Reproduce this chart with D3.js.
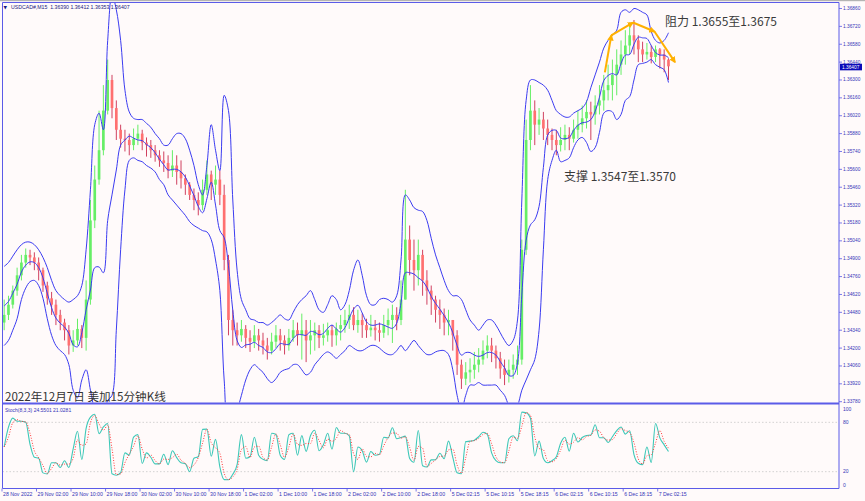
<!DOCTYPE html>
<html><head><meta charset="utf-8">
<script src="https://cdn.jsdelivr.net/npm/d3@7"></script>
<style>html,body{margin:0;padding:0;background:#fffafa;}svg{display:block;}</style>
</head><body>
<svg id="chart" width="865" height="501"></svg>
<script>
// ---------- DATA ----------
const headerText = "USDCAD#,M15  1.36390 1.36412 1.36353 1.36407";
const stochText = "Stoch(8,3,3) 24.5501 21.0281";
const lastPriceLabel = "1.36407";
const firstOpen = 1.3440;
// hourly candles (4 x M15 bars each)
const closes = [1.3446,1.3454,1.3465,1.3477,1.3487,1.3493,1.3491,1.3487,1.3481,1.3469,
1.3459,1.3454,1.3446,1.3440,1.3434,1.3422,1.3426,1.3435,1.3428,1.3458,
1.3520,1.3552,1.3575,1.3606,1.3630,1.3608,1.3591,1.3584,1.3583,1.3579,
1.3584,1.3588,1.3581,1.3579,1.3575,1.3571,1.3567,1.3565,1.3559,1.3563,
1.3558,1.3553,1.3548,1.3540,1.3536,1.3532,1.3544,1.3556,1.3548,1.3552,
1.3540,1.3489,1.3442,1.3434,1.3430,1.3435,1.3428,1.3425,1.3430,1.3426,
1.3422,1.3418,1.3425,1.3430,1.3426,1.3422,1.3428,1.3434,1.3430,1.3434,
1.3426,1.3430,1.3434,1.3428,1.3430,1.3434,1.3430,1.3435,1.3438,1.3442,
1.3446,1.3438,1.3442,1.3438,1.3434,1.3436,1.3434,1.3432,1.3438,1.3442,
1.3446,1.3442,1.3458,1.3505,1.3489,1.3481,1.3493,1.3473,1.3465,1.3458,
1.3450,1.3446,1.3440,1.3442,1.3430,1.3407,1.3396,1.3401,1.3403,1.3407,
1.3411,1.3418,1.3422,1.3418,1.3412,1.3404,1.3399,1.3403,1.3407,1.3411,
1.3497,1.3583,1.3606,1.3595,1.3599,1.3592,1.3587,1.3583,1.3579,1.3583,
1.3587,1.3584,1.3591,1.3595,1.3600,1.3605,1.3603,1.3610,1.3614,1.3622,
1.3626,1.3634,1.3642,1.3650,1.3657,1.3665,1.3661,1.3654,1.3650,1.3652,
1.3648,1.3654,1.3650,1.3646,1.36407];
const highs = [1.3458,1.3461,1.3469,1.3483,1.3493,1.3498,1.3497,1.3495,1.3491,1.3483,
1.3472,1.3464,1.3458,1.3450,1.3443,1.3438,1.3434,1.3443,1.3438,1.3473,
1.3536,1.3563,1.3606,1.3626,1.3646,1.3634,1.3614,1.3595,1.3591,1.3588,
1.3592,1.3595,1.3591,1.3585,1.3583,1.3579,1.3575,1.3574,1.3571,1.3575,
1.3571,1.3567,1.3556,1.3550,1.3545,1.3542,1.3552,1.3567,1.3559,1.3563,
1.3559,1.3548,1.3493,1.3450,1.3440,1.3442,1.3438,1.3434,1.3438,1.3435,
1.3432,1.3428,1.3432,1.3438,1.3435,1.3430,1.3435,1.3442,1.3440,1.3447,
1.3442,1.3442,1.3440,1.3438,1.3439,1.3440,1.3438,1.3440,1.3446,1.3450,
1.3454,1.3452,1.3450,1.3447,1.3443,1.3446,1.3442,1.3440,1.3446,1.3451,
1.3454,1.3452,1.3473,1.3544,1.3516,1.3505,1.3505,1.3497,1.3481,1.3469,
1.3461,1.3458,1.3451,1.3450,1.3442,1.3434,1.3411,1.3409,1.3412,1.3417,
1.3420,1.3426,1.3430,1.3428,1.3422,1.3417,1.3411,1.3411,1.3415,1.3422,
1.3505,1.3599,1.3626,1.3614,1.3608,1.3605,1.3599,1.3592,1.3591,1.3593,
1.3595,1.3593,1.3599,1.3606,1.3610,1.3614,1.3613,1.3618,1.3626,1.3634,
1.3642,1.3646,1.3654,1.3661,1.3669,1.3675,1.3677,1.3665,1.3660,1.3659,
1.3657,1.3657,1.3655,1.3654,1.3647];
const lows = [1.3434,1.3442,1.3451,1.3461,1.3473,1.3483,1.3485,1.3481,1.3473,1.3464,
1.3454,1.3446,1.3438,1.3434,1.3426,1.3415,1.3417,1.3422,1.3420,1.3418,
1.3454,1.3514,1.3548,1.3571,1.3603,1.3600,1.3583,1.3577,1.3574,1.3571,
1.3575,1.3579,1.3575,1.3570,1.3569,1.3566,1.3562,1.3558,1.3553,1.3554,
1.3548,1.3545,1.3540,1.3536,1.3528,1.3524,1.3528,1.3540,1.3536,1.3540,
1.3532,1.3481,1.3430,1.3422,1.3422,1.3425,1.3420,1.3417,1.3420,1.3418,
1.3415,1.3411,1.3415,1.3420,1.3418,1.3415,1.3418,1.3425,1.3422,1.3411,
1.3409,1.3415,1.3418,1.3420,1.3422,1.3425,1.3421,1.3422,1.3426,1.3432,
1.3435,1.3434,1.3432,1.3428,1.3428,1.3429,1.3426,1.3425,1.3428,1.3430,
1.3424,1.3434,1.3438,1.3458,1.3477,1.3465,1.3469,1.3461,1.3454,1.3446,
1.3440,1.3435,1.3430,1.3430,1.3418,1.3399,1.3388,1.3391,1.3393,1.3396,
1.3401,1.3407,1.3412,1.3409,1.3404,1.3396,1.3391,1.3393,1.3396,1.3399,
1.3407,1.3493,1.3575,1.3579,1.3587,1.3583,1.3579,1.3575,1.3571,1.3574,
1.3575,1.3575,1.3581,1.3584,1.3589,1.3592,1.3583,1.3595,1.3603,1.3606,
1.3614,1.3614,1.3618,1.3634,1.3642,1.3650,1.3650,1.3644,1.3644,1.3646,
1.3643,1.3644,1.3639,1.3636,1.3630];
// Bollinger bands (one value per hourly candle)
const bbUpper = [1.3484,1.3487,1.3492,1.3497,1.3501,1.3503,1.3503,1.3501,1.3497,1.3491,
1.3483,1.3473,1.3465,1.3461,1.3458,1.3456,1.3458,1.3461,1.3469,1.3497,
1.3544,1.3595,1.3604,1.3591,1.3661,1.3697,1.3685,1.3661,1.3622,1.3605,
1.3600,1.3599,1.3599,1.3596,1.3593,1.3588,1.3584,1.3579,1.3579,1.3584,
1.3588,1.3588,1.3584,1.3575,1.3563,1.3548,1.3540,1.3563,1.3595,1.3575,
1.3559,1.3618,1.3606,1.3536,1.3481,1.3458,1.3450,1.3443,1.3442,1.3440,
1.3440,1.3438,1.3440,1.3443,1.3446,1.3443,1.3442,1.3448,1.3454,1.3458,
1.3461,1.3465,1.3458,1.3450,1.3448,1.3454,1.3461,1.3458,1.3450,1.3454,
1.3465,1.3481,1.3489,1.3477,1.3461,1.3454,1.3454,1.3458,1.3459,1.3458,
1.3456,1.3461,1.3489,1.3540,1.3536,1.3530,1.3528,1.3527,1.3520,1.3506,
1.3493,1.3483,1.3473,1.3465,1.3461,1.3461,1.3458,1.3450,1.3442,1.3438,
1.3434,1.3438,1.3442,1.3442,1.3438,1.3432,1.3426,1.3422,1.3426,1.3442,
1.3536,1.3614,1.3630,1.3630,1.3628,1.3626,1.3622,1.3614,1.3606,1.3603,
1.3601,1.3601,1.3604,1.3606,1.3608,1.3613,1.3624,1.3634,1.3644,1.3655,
1.3661,1.3665,1.3669,1.3683,1.3685,1.3683,1.3686,1.3685,1.3683,1.3681,
1.3668,1.3661,1.3659,1.3661,1.3667];
const bbLower = [1.3422,1.3426,1.3434,1.3443,1.3458,1.3467,1.3472,1.3473,1.3469,1.3459,
1.3443,1.3430,1.3422,1.3418,1.3415,1.3407,1.3387,1.3381,1.3395,1.3403,
1.3387,1.3371,1.3363,1.3367,1.3379,1.3383,1.3434,1.3497,1.3544,1.3567,
1.3569,1.3567,1.3566,1.3563,1.3561,1.3558,1.3552,1.3548,1.3540,1.3536,
1.3532,1.3528,1.3524,1.3519,1.3516,1.3514,1.3512,1.3511,1.3505,1.3489,
1.3465,1.3395,1.3363,1.3363,1.3371,1.3383,1.3395,1.3403,1.3407,1.3404,
1.3401,1.3396,1.3393,1.3396,1.3401,1.3403,1.3404,1.3407,1.3407,1.3403,
1.3399,1.3401,1.3407,1.3411,1.3415,1.3417,1.3415,1.3412,1.3415,1.3418,
1.3422,1.3420,1.3418,1.3418,1.3420,1.3422,1.3422,1.3420,1.3417,1.3415,
1.3415,1.3418,1.3422,1.3418,1.3422,1.3426,1.3422,1.3418,1.3415,1.3415,
1.3417,1.3418,1.3418,1.3415,1.3403,1.3383,1.3371,1.3383,1.3391,1.3391,
1.3393,1.3391,1.3391,1.3391,1.3391,1.3387,1.3383,1.3375,1.3371,1.3375,
1.3387,1.3395,1.3403,1.3411,1.3434,1.3497,1.3552,1.3567,1.3575,1.3566,
1.3567,1.3569,1.3577,1.3583,1.3585,1.3581,1.3574,1.3577,1.3589,1.3604,
1.3606,1.3605,1.3599,1.3603,1.3614,1.3617,1.3630,1.3642,1.3643,1.3644,
1.3646,1.3642,1.3640,1.3638,1.3628];
const dateLabels = ["28 Nov 2022","29 Nov 02:00","29 Nov 10:00","29 Nov 18:00","30 Nov 02:00","30 Nov 10:00","30 Nov 18:00","1 Dec 02:00","1 Dec 10:00","1 Dec 18:00","2 Dec 02:00","2 Dec 10:00","2 Dec 18:00","5 Dec 02:15","5 Dec 10:15","5 Dec 18:15","6 Dec 02:15","6 Dec 10:15","6 Dec 18:15","7 Dec 02:15"];
const barsPerLabel = 32;
const barsPerCandle = 4;
const priceLabels = ["1.36860","1.36720","1.36580","1.36440","1.36300","1.36160","1.36020","1.35880","1.35740","1.35600","1.35460","1.35320","1.35180","1.35040","1.34900","1.34760","1.34620","1.34480","1.34340","1.34200","1.34060","1.33920","1.33780"];
const stochLabels = [100, 80, 20, 0];
const stochLevels = [80, 20];
// annotation arrows (bar index, price)
const trendArrows = [[559,1.3636],[565,1.3665],[585,1.3675],[605,1.3668],[624,1.3644]];
const resistanceText = "阻力 1.3655至1.3675";
const supportText = "支撑 1.3547至1.3570";
const titleText = "2022年12月7日 美加15分钟K线";

// ---------- LAYOUT ----------
const svg = d3.select("#chart");
const L = 2.5, R = 839, T = 2.5, MB = 403.5, SB = 488.5;
const frame = "#5b5be8", txtBlue = "#3434b8";
const x = d3.scaleLinear().domain([0, barsPerLabel*(dateLabels.length-1)]).range([2, 657.7]);
const y = d3.scaleLinear().domain([1.3378, 1.3686]).range([401.7, 8.5]);
const s = d3.scaleLinear().domain([0, 100]).range([488.1, 405.9]);
const cx = i => x(i*barsPerCandle + barsPerCandle/2);

svg.append("rect").attr("width",865).attr("height",501).attr("fill","#fffafa");
svg.append("rect").attr("x",0).attr("y",0).attr("width",865).attr("height",1.2).attr("fill","#b4b4b4");

const defs = svg.append("defs");
defs.append("clipPath").attr("id","cm").append("rect").attr("x",L).attr("y",T).attr("width",R-L).attr("height",MB-T-1);
defs.append("clipPath").attr("id","cs").append("rect").attr("x",L).attr("y",MB+1).attr("width",R-L).attr("height",SB-MB-1);
defs.append("marker").attr("id","ah").attr("viewBox","0 0 10 10").attr("refX",8).attr("refY",5)
  .attr("markerWidth",3.2).attr("markerHeight",3.2).attr("orient","auto")
  .append("path").attr("d","M0,0L10,5L0,10z").attr("fill","#ffb000");

const gm = svg.append("g").attr("clip-path","url(#cm)");

// candles
const candles = closes.map((c,i)=>({i, o: i ? closes[i-1] : firstOpen, h: highs[i], l: lows[i], c}));
const bull = "#66ee66", bear = "#ff7070";
gm.selectAll("line.wick").data(candles).join("line")
  .attr("x1",d=>cx(d.i)).attr("x2",d=>cx(d.i)).attr("y1",d=>y(d.h)).attr("y2",d=>y(d.l))
  .attr("stroke",d=>d.c>=d.o?bull:"#d04060").attr("stroke-width",1);
const bw = (x(barsPerCandle)-x(0))*0.62;
gm.selectAll("rect.body").data(candles).join("rect")
  .attr("x",d=>cx(d.i)-bw/2).attr("width",bw)
  .attr("y",d=>y(Math.max(d.o,d.c))).attr("height",d=>Math.max(1,Math.abs(y(d.o)-y(d.c))))
  .attr("fill",d=>d.c>=d.o?bull:bear);

// Bollinger bands
const bbMid = bbUpper.map((u,i)=>(u+bbLower[i])/2);
const band = d3.line().x((d,i)=>cx(i)).y(d=>y(d)).curve(d3.curveCatmullRom);
[bbUpper, bbMid, bbLower].forEach(arr=>{
  gm.append("path").attr("d",band(arr)).attr("fill","none").attr("stroke","#3b3bf0").attr("stroke-width",1);
});

// arrows
for (let k=0;k<trendArrows.length-1;k++){
  const a=trendArrows[k], b=trendArrows[k+1];
  gm.append("line").attr("x1",x(a[0])).attr("y1",y(a[1])).attr("x2",x(b[0])).attr("y2",y(b[1]))
    .attr("stroke","#ffb000").attr("stroke-width",2).attr("marker-end","url(#ah)");
}

// annotations
const cjk = "'Noto Sans CJK SC','Noto Sans',sans-serif";
svg.append("text").attr("x",665).attr("y",25.5).text(resistanceText).attr("font-family",cjk).attr("font-size",12).attr("fill","#3a3a3a");
svg.append("text").attr("x",564).attr("y",180.5).text(supportText).attr("font-family",cjk).attr("font-size",12).attr("fill","#3a3a3a");
svg.append("text").attr("x",5).attr("y",401).text(titleText).attr("font-family",cjk).attr("font-size",11.6).attr("fill","#333");

// header
const small = "'Liberation Sans',Arial,sans-serif";
svg.append("text").attr("x",3.5).attr("y",8.6).text("▼").attr("font-family","DejaVu Sans").attr("font-size",4.5).attr("fill","#1a1a80");
svg.append("text").attr("x",11).attr("y",8.6).text(headerText).attr("font-family",small).attr("font-size",5.2).attr("fill","#1a1a80").style("white-space","pre");

// stochastic %K(8 M15 bars = 2 candles), %D smoothing
const kN = 2;
const stochK = closes.map((c,i)=>{const a=Math.max(0,i-kN+1);const hh=d3.max(highs.slice(a,i+1)), ll=d3.min(lows.slice(a,i+1));return hh===ll?50:100*(c-ll)/(hh-ll);});
const stochD = stochK.map((v,i)=>d3.mean(stochK.slice(Math.max(0,i-1),i+1)));
const gs = svg.append("g").attr("clip-path","url(#cs)");
stochLevels.forEach(v=>gs.append("line").attr("x1",L).attr("x2",R).attr("y1",s(v)).attr("y2",s(v))
  .attr("stroke","#c8c8c8").attr("stroke-dasharray","1.5,2").attr("stroke-width",0.8));
const sl = d3.line().x((d,i)=>cx(i)).y(d=>s(d)).curve(d3.curveMonotoneX);
gs.append("path").attr("d",sl(stochK)).attr("fill","none").attr("stroke","#3ec8b8").attr("stroke-width",1.1);
gs.append("path").attr("d",sl(stochD)).attr("fill","none").attr("stroke","#ff3a3a").attr("stroke-width",1).attr("stroke-dasharray","1,1.6");
svg.append("text").attr("x",5).attr("y",412).text(stochText).attr("font-family",small).attr("font-size",5).attr("fill",txtBlue);

// frame
svg.append("line").attr("x1",L).attr("x2",L).attr("y1",T).attr("y2",SB).attr("stroke",frame).attr("stroke-width",1);
svg.append("line").attr("x1",R).attr("x2",R).attr("y1",T).attr("y2",SB).attr("stroke",frame).attr("stroke-width",1);
svg.append("line").attr("x1",L).attr("x2",R).attr("y1",T).attr("y2",T).attr("stroke",frame).attr("stroke-width",1);
svg.append("line").attr("x1",L).attr("x2",R).attr("y1",MB).attr("y2",MB).attr("stroke",frame).attr("stroke-width",2);
svg.append("line").attr("x1",L).attr("x2",R).attr("y1",SB).attr("y2",SB).attr("stroke",frame).attr("stroke-width",1);

// price axis
priceLabels.forEach(lbl=>{
  const yy = y(+lbl);
  svg.append("line").attr("x1",R).attr("x2",R+3).attr("y1",yy).attr("y2",yy).attr("stroke",frame).attr("stroke-width",0.8);
  svg.append("text").attr("x",R+4).attr("y",yy+1.5).text(lbl).attr("font-family",small).attr("font-size",4.8).attr("fill",txtBlue);
});
const ly = y(closes[closes.length-1]);
svg.append("rect").attr("x",R+1).attr("y",ly-2.6).attr("width",22).attr("height",6.6).attr("fill","#0a0ab8");
svg.append("text").attr("x",R+3).attr("y",ly+2.2).text(lastPriceLabel).attr("font-family",small).attr("font-size",4.8).attr("fill","#fff");

// stoch axis
stochLabels.forEach(v=>{
  const yy = Math.min(Math.max(s(v), 409), 485);
  svg.append("text").attr("x",R+4).attr("y",yy+1.8).text(v).attr("font-family",small).attr("font-size",5).attr("fill",txtBlue);
});

// time axis
dateLabels.forEach((lbl,k)=>{
  const xx = x(k*barsPerLabel);
  svg.append("line").attr("x1",xx).attr("x2",xx).attr("y1",SB).attr("y2",SB+3).attr("stroke",frame).attr("stroke-width",0.8);
  svg.append("text").attr("x",xx+1).attr("y",496).text(lbl).attr("font-family",small).attr("font-size",5.2).attr("fill",txtBlue);
});
</script>
</body></html>
